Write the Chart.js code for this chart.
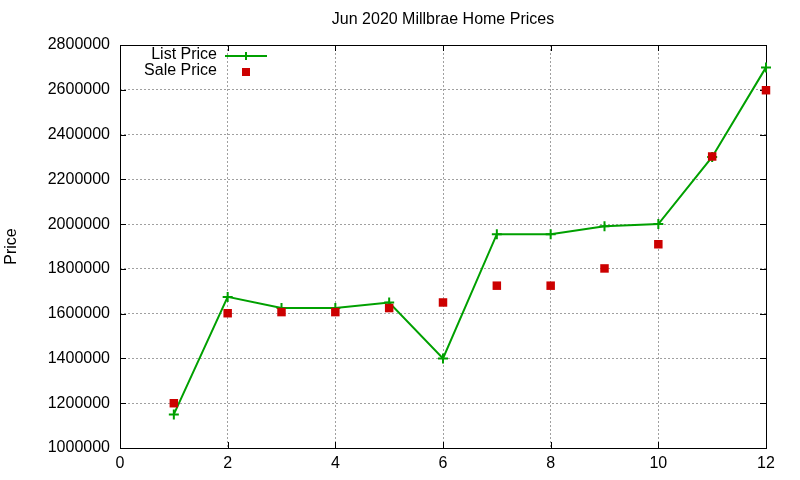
<!DOCTYPE html>
<html>
<head>
<meta charset="utf-8">
<script src="https://cdn.jsdelivr.net/npm/chart.js@4/dist/chart.umd.min.js"></script>
<style>
  html, body { margin: 0; padding: 0; background: #fff; }
  canvas { display: block; }
</style>
</head>
<body>
<canvas id="priceChart" width="800" height="480"></canvas>
<script>
// ===== DATA =====
const months = [1, 2, 3, 4, 5, 6, 7, 8, 9, 10, 11, 12];
const listPrice = [1150000, 1675000, 1625000, 1625000, 1650000, 1400000, 1955000, 1955000, 1990000, 2000000, 2300000, 2700000];
const salePrice = [1200000, 1602000, 1607000, 1607000, 1625000, 1650000, 1725000, 1725000, 1802000, 1910000, 2302000, 2598000];
const chartTitle = "Jun 2020 Millbrae Home Prices";
const yTitle = "Price";
const seriesNames = ["List Price", "Sale Price"];

const GREEN = '#00a000', RED = '#cc0000';
const FONT = '16px "Liberation Sans", Arial, sans-serif';

Chart.defaults.font.family = '"Liberation Sans", Arial, sans-serif';
Chart.defaults.font.size = 16;
Chart.defaults.color = '#000';

// ===== BORDER, INWARD TICKS, TITLES, KEY (gnuplot look) =====
const gnuplotFrame = {
    id: 'gnuplotFrame',
    beforeDatasetsDraw(chart) {
        const ctx = chart.ctx, a = chart.chartArea;
        const xs = chart.scales.x, ys = chart.scales.y;
        ctx.save();
        ctx.strokeStyle = '#000';
        ctx.lineWidth = 1;
        ctx.strokeRect(a.left + 0.5, a.top + 0.5, a.right - a.left, a.bottom - a.top);
        // inward tick marks on all sides
        const tl = 6;
        ctx.beginPath();
        xs.ticks.forEach(t => {
            const px = Math.round(xs.getPixelForValue(t.value)) + 0.5;
            ctx.moveTo(px, a.bottom); ctx.lineTo(px, a.bottom - tl);
            ctx.moveTo(px, a.top); ctx.lineTo(px, a.top + tl);
        });
        ys.ticks.forEach(t => {
            const py = Math.round(ys.getPixelForValue(t.value)) + 0.5;
            ctx.moveTo(a.left, py); ctx.lineTo(a.left + tl, py);
            ctx.moveTo(a.right, py); ctx.lineTo(a.right - tl, py);
        });
        ctx.stroke();

        // title
        ctx.fillStyle = '#000';
        ctx.font = FONT;
        ctx.textAlign = 'center';
        ctx.textBaseline = 'middle';
        ctx.fillText(chartTitle, (a.left + a.right) / 2, 20);

        // y axis title
        ctx.save();
        ctx.translate(12, (a.top + a.bottom) / 2);
        ctx.rotate(-Math.PI / 2);
        ctx.fillText(yTitle, 0, 0);
        ctx.restore();

        // key
        ctx.textAlign = 'right';
        ctx.fillText(seriesNames[0], 217, 55);
        ctx.fillText(seriesNames[1], 217, 71);
        ctx.strokeStyle = GREEN;
        ctx.lineWidth = 2;
        ctx.beginPath();
        ctx.moveTo(225, 56); ctx.lineTo(267, 56);
        ctx.moveTo(246, 52); ctx.lineTo(246, 60);
        ctx.stroke();
        ctx.fillStyle = RED;
        ctx.fillRect(242, 68, 8, 8);
        ctx.restore();
    }
};

new Chart(document.getElementById('priceChart').getContext('2d'), {
    type: 'line',
    data: {
        datasets: [
            {
                label: seriesNames[0],
                data: months.map((m, i) => ({x: m, y: listPrice[i]})),
                borderColor: GREEN, backgroundColor: GREEN,
                borderWidth: 2, fill: false, tension: 0, clip: false,
                pointStyle: 'cross', pointRadius: 5, pointBorderWidth: 2,
                order: 1
            },
            {
                label: seriesNames[1],
                data: months.map((m, i) => ({x: m, y: salePrice[i]})),
                borderColor: RED, backgroundColor: RED,
                showLine: false, clip: false,
                pointStyle: 'rect', pointRadius: 6, pointBorderWidth: 0,
                order: 0
            }
        ]
    },
    options: {
        responsive: false,
        animation: false,
        devicePixelRatio: 1,
        layout: {padding: {top: 45, right: 34, left: 0, bottom: 0}},
        plugins: {legend: {display: false}, title: {display: false}, tooltip: {enabled: false}},
        scales: {
            x: {
                type: 'linear', min: 0, max: 12,
                ticks: {stepSize: 2, padding: 6},
                grid: {color: '#a0a0a0', drawTicks: false},
                border: {display: false, dash: [2, 2]},
                afterFit: s => { s.height = 32; }
            },
            y: {
                min: 1000000, max: 2800000,
                ticks: {stepSize: 200000, padding: 10, callback: v => String(v)},
                grid: {color: '#a0a0a0', drawTicks: false},
                border: {display: false, dash: [2, 2]},
                afterFit: s => { s.width = 120; }
            }
        }
    },
    plugins: [gnuplotFrame]
});
</script>
</body>
</html>
